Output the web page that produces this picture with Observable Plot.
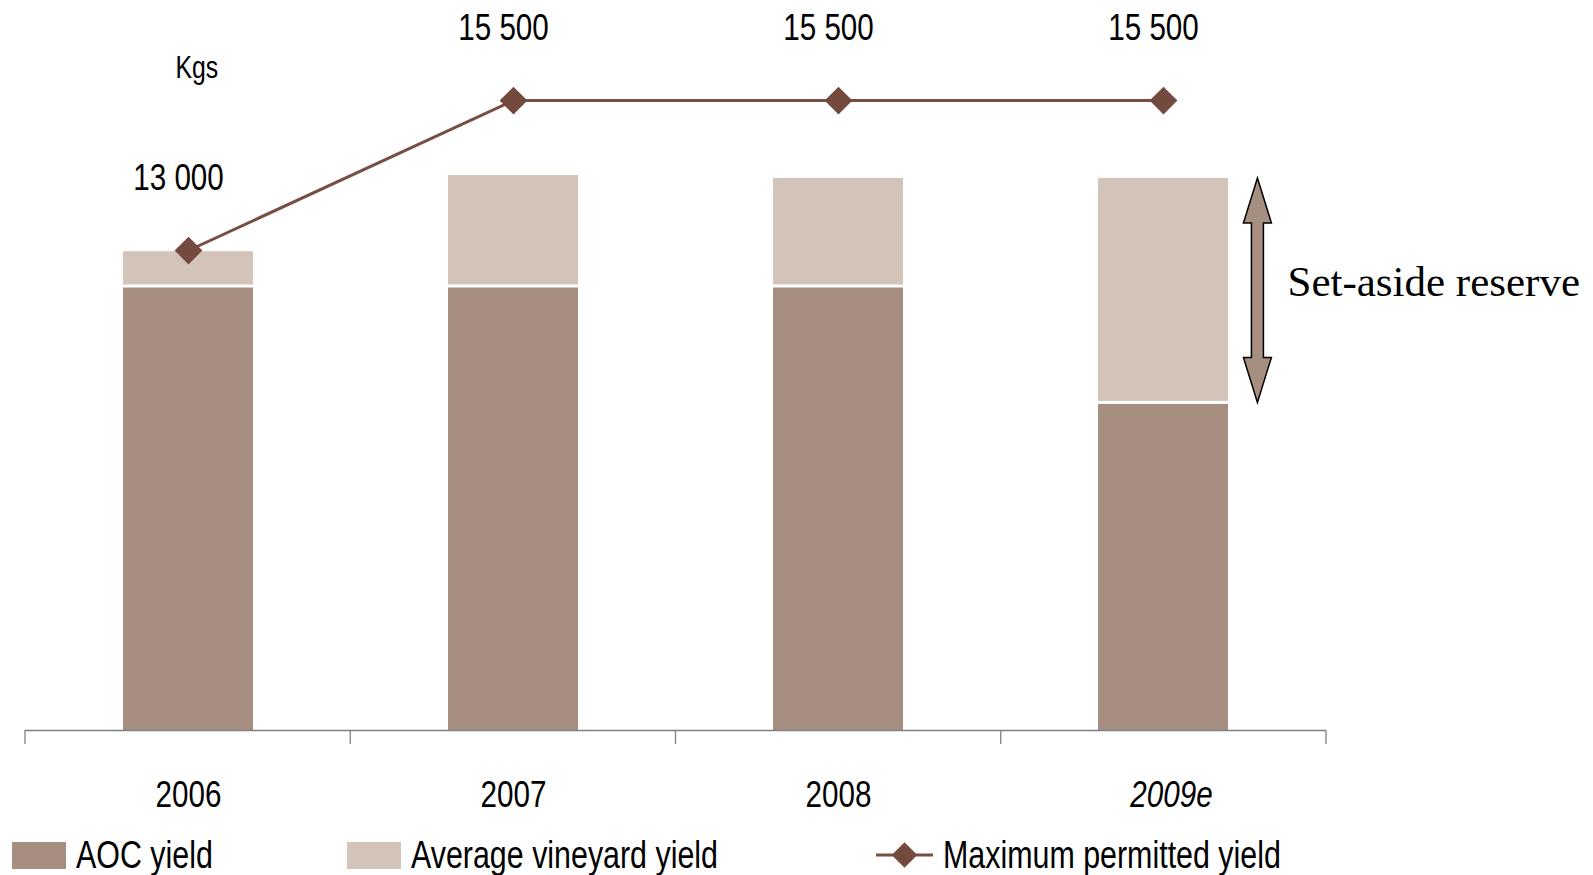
<!DOCTYPE html>
<html><head><meta charset="utf-8">
<script src="https://cdn.jsdelivr.net/npm/d3@7"></script>
<script src="https://cdn.jsdelivr.net/npm/@observablehq/plot@0.6"></script>
<style>
body{margin:0;background:#fff;}
#chart{width:1593px;height:875px;position:relative;overflow:hidden;background:#fff;}
.legend{position:absolute;top:836px;left:0;width:1593px;height:38px;}
.item{position:absolute;top:0;height:38px;display:flex;align-items:center;font-size:38px;color:#000;white-space:nowrap;}
.item .lbl{display:inline-block;transform:scaleX(0.8);transform-origin:left center;}
.sw{display:inline-block;width:54px;height:27px;margin-right:10px;flex:none;}
</style></head><body><div id="chart"></div>
<script>
// ---- data ----
const years = ["2006", "2007", "2008", "2009e"];
const aocYield = [12400, 12400, 12400, 10460];
const avgYield = [12980, 14250, 14200, 14200];
const maxYield = [13000, 15500, 15500, 15500];
const maxLabels = ["13 000", "15 500", "15 500", "15 500"];
const seriesNames = ["AOC yield", "Average vineyard yield", "Maximum permitted yield"];
const unitLabel = "Kgs";
const reserveLabel = "Set-aside reserve";
const estimateYear = "2009e";

// ---- styles ----
const FONT = '"Liberation Sans Narrow","Arial Narrow","Liberation Sans",Arial,sans-serif';
const SERIF = '"Liberation Serif","Times New Roman",serif';
const NARROW = 0.8; // horizontal condensation to mimic Arial Narrow
const C_AOC = "#a68e81", C_AVG = "#d3c4ba", C_LINE = "#774e43", C_DOT = "#744a3f", C_AXIS = "#808080";
const Y_MIN = 5000, Y_MAX = 17000;
const PAD_INNER = 0.6, PAD_OUTER = 0.3;

const data = years.map((year, i) => ({year, aoc: aocYield[i], avg: avgYield[i], max: maxYield[i], label: maxLabels[i]}));

function bandStep(dim) { return (dim.width - dim.marginLeft - dim.marginRight) / years.length; }

function axisTicks(index, scales, values, dim) {
  const y0 = scales.y(Y_MIN);
  const step = bandStep(dim);
  const g = d3.create("svg:g").attr("stroke", C_AXIS).attr("stroke-width", 1.3);
  d3.range(years.length + 1).forEach(i => {
    const x = dim.marginLeft + i * step;
    g.append("line").attr("x1", x).attr("x2", x).attr("y1", y0).attr("y2", y0 + 14);
  });
  return g.node();
}

function reserveArrow(index, scales, values, dim) {
  const d = data[data.length - 1];
  const yTop = scales.y(d.avg), yBot = scales.y(d.aoc);
  const step = bandStep(dim);
  const barRight = dim.marginLeft + step * (years.length - 1) + step * (PAD_OUTER + (1 - PAD_INNER));
  const cx = barRight + 29;
  const hw = 14, sw = 6, hl = 45;
  const pts = [[cx, yTop], [cx + hw, yTop + hl], [cx + sw, yTop + hl], [cx + sw, yBot - hl], [cx + hw, yBot - hl],
    [cx, yBot], [cx - hw, yBot - hl], [cx - sw, yBot - hl], [cx - sw, yTop + hl], [cx - hw, yTop + hl]];
  const g = d3.create("svg:g");
  g.append("polygon").attr("points", pts.map(p => p.join(",")).join(" "))
    .attr("fill", C_AOC).attr("stroke", "#000").attr("stroke-width", 1.5).attr("stroke-linejoin", "miter");
  return g.node();
}

const chart = Plot.plot({
  width: 1593, height: 835,
  marginLeft: 25, marginRight: 267, marginTop: 10, marginBottom: 105,
  x: {domain: years, paddingInner: PAD_INNER, paddingOuter: PAD_OUTER, axis: null},
  y: {domain: [Y_MIN, Y_MAX], axis: null},
  style: {fontFamily: FONT, background: "white", overflow: "visible", color: "black"},
  marks: [
    Plot.barY(data, {x: "year", y: "aoc", fill: C_AOC, insetTop: 1.5, clip: true}),
    Plot.barY(data, {x: "year", y1: "aoc", y2: "avg", fill: C_AVG, insetBottom: 1.5}),
    Plot.ruleY([Y_MIN], {stroke: C_AXIS, strokeWidth: 1.3}),
    axisTicks,
    Plot.line(data, {x: "year", y: "max", stroke: C_LINE, strokeWidth: 3}),
    Plot.dot(data, {x: "year", y: "max", symbol: "diamond2", r: 12.5, fill: C_DOT, stroke: "none"}),
    Plot.text(data, {x: "year", y: "max", text: "label", dx: -10, dy: -72, fontSize: 37, fill: "black"}),
    Plot.text(years.filter(y => y !== estimateYear), {x: d => d, frameAnchor: "bottom", lineAnchor: "middle", dy: 65, fontSize: 37, fill: "black"}),
    Plot.text([estimateYear], {x: d => d, frameAnchor: "bottom", lineAnchor: "middle", dy: 65, dx: 8, fontSize: 37, fontStyle: "italic", fill: "black"}),
    Plot.text([unitLabel], {frameAnchor: "top-left", lineAnchor: "middle", dx: 150, dy: 58, textAnchor: "start", fontSize: 31, fill: "black"}),
    reserveArrow,
    Plot.text([data[data.length - 1]], {x: "year", y: d => (d.aoc + d.avg) / 2, text: () => reserveLabel,
      dx: 124, dy: -8, textAnchor: "start", fontFamily: SERIF, fontSize: 43, fill: "black"})
  ]
});

// condense the sans-serif texts horizontally (Arial Narrow look), keeping each anchor in place
d3.select(chart).selectAll("g[aria-label='text']").each(function () {
  const g = d3.select(this);
  if ((g.attr("font-family") || "").includes("Serif")) return;
  g.selectAll("text").each(function () {
    const t = d3.select(this);
    let tr = t.attr("transform");
    if (!tr) {
      const x = +t.attr("x") || 0, y = +t.attr("y") || 0;
      t.attr("x", null).attr("y", null);
      tr = `translate(${x},${y})`;
    }
    t.attr("transform", `${tr} scale(${NARROW},1)`);
  });
});

const root = document.getElementById("chart");
root.appendChild(chart);

// ---- legend ----
const legend = d3.select(root).append("div").attr("class", "legend").style("font-family", FONT);
const lefts = [12, 347, 876];
seriesNames.forEach((name, i) => {
  const item = legend.append("div").attr("class", "item").style("left", lefts[i] + "px");
  if (i < 2) {
    item.append("span").attr("class", "sw").style("background", i === 0 ? C_AOC : C_AVG);
  } else {
    const s = item.append("svg").attr("width", 57).attr("height", 30).style("margin-right", "10px").style("flex", "none");
    s.append("line").attr("x1", 0).attr("x2", 57).attr("y1", 15).attr("y2", 15).attr("stroke", C_LINE).attr("stroke-width", 3);
    s.append("path").attr("d", d3.symbol(d3.symbolDiamond2, 420)()).attr("transform", "translate(28.5,15)").attr("fill", C_DOT);
  }
  item.append("span").attr("class", "lbl").text(name);
});
</script>
</body></html>
